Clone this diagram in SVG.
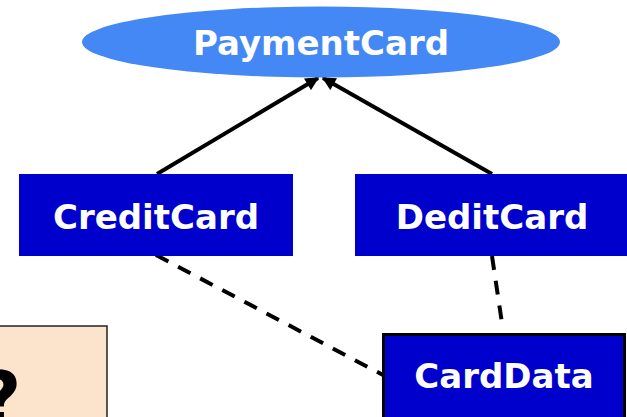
<svg xmlns="http://www.w3.org/2000/svg" width="627" height="417" viewBox="0 0 627 417">
<style>
.lbl{font-family:"DejaVu Sans",Verdana,sans-serif;font-weight:bold;font-size:34px;fill:#fff;text-anchor:middle}
.cls{fill:#0000CC}
.c{stroke:#000;stroke-width:4;fill:none}
.d{stroke-dasharray:14 11}
</style>
<defs>
<marker id="ah" viewBox="0 0 10 10" refX="9" refY="5" markerWidth="3.6" markerHeight="3.4" orient="auto" markerUnits="strokeWidth">
<path d="M0,0L10,5L0,10z" fill="#000"/>
</marker>
</defs>
<rect width="627" height="417" fill="#fff"/>
<g id="note">
<rect x="-20" y="326" width="127" height="110" fill="#FCE4CC" stroke="#222" stroke-width="1.5"/>
<text x="-22" y="425" style="font-family:'DejaVu Sans',Verdana,sans-serif;font-weight:bold;font-size:75px;fill:#000">?</text>
</g>
<g id="connectors">
<line class="c" x1="157" y1="174" x2="318" y2="78" marker-end="url(#ah)"/>
<line class="c" x1="492" y1="174" x2="323" y2="78" marker-end="url(#ah)"/>
<line class="c d" x1="156" y1="255" x2="383" y2="375"/>
<line class="c d" x1="492" y1="256" x2="503" y2="330"/>
</g>
<g id="PaymentCard">
<ellipse cx="321" cy="42" rx="239" ry="35.5" fill="#4488F5"/>
<text class="lbl" x="321" y="55">PaymentCard</text>
</g>
<g id="CreditCard">
<rect class="cls" x="19" y="174" width="274" height="82"/>
<text class="lbl" x="156" y="229">CreditCard</text>
</g>
<g id="DeditCard">
<rect class="cls" x="355" y="174" width="274" height="82"/>
<text class="lbl" x="492" y="229">DeditCard</text>
</g>
<g id="CardData">
<rect class="cls" x="383.5" y="334.5" width="241" height="100" stroke="#000" stroke-width="3"/>
<text class="lbl" x="504" y="388">CardData</text>
</g>
</svg>
